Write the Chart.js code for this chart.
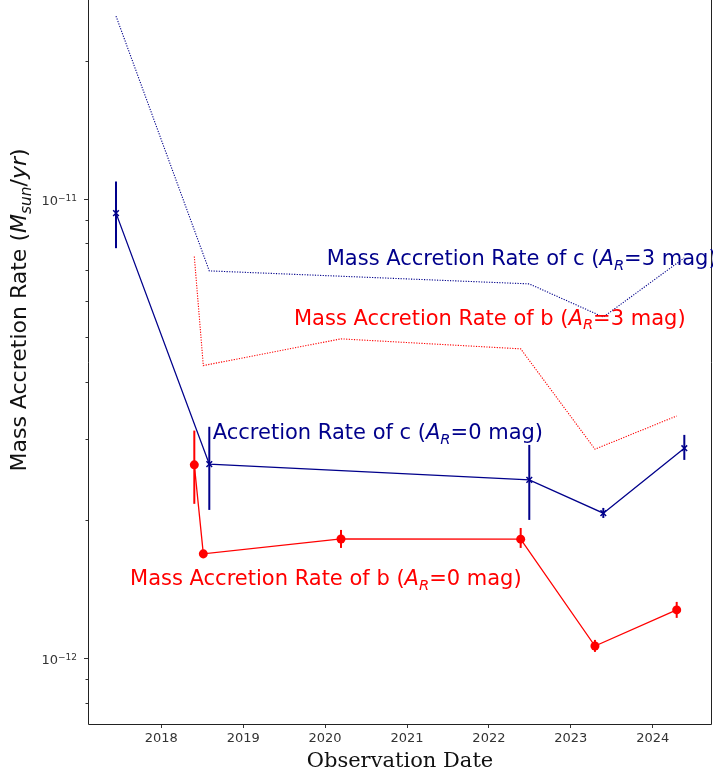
<!DOCTYPE html>
<html><head><meta charset="utf-8">
<script src="https://cdn.jsdelivr.net/npm/chart.js@4/dist/chart.umd.min.js"></script>
<style>html,body{margin:0;padding:0;background:#fff;}#wrap{position:relative;width:713px;height:775px;}</style>
</head><body><div id="wrap"><canvas id="c" width="713" height="775"></canvas></div>
<script>
// ---- data (decimal year, Msun/yr) ----
const datesC = [2017.447, 2018.586, 2022.493, 2023.397, 2024.386];
const rateC0 = [9.31e-12, 2.645e-12, 2.445e-12, 2.069e-12, 2.865e-12];
const errLoC0 = [7.81e-12, 2.103e-12, 2.0e-12, 2.02e-12, 2.702e-12];
const errHiC0 = [1.091e-11, 3.19e-12, 2.913e-12, 2.124e-12, 3.063e-12];
const rateC3 = [2.50e-11, 6.97e-12, 6.53e-12, 5.53e-12, 7.44e-12];

const datesB = [2018.403, 2018.513, 2020.194, 2022.388, 2023.295, 2024.293];
const rateB0 = [2.636e-12, 1.687e-12, 1.818e-12, 1.816e-12, 1.063e-12, 1.274e-12];
const errLoB0 = [2.168e-12, 1.65e-12, 1.738e-12, 1.738e-12, 1.032e-12, 1.224e-12];
const errHiB0 = [3.13e-12, 1.72e-12, 1.902e-12, 1.921e-12, 1.096e-12, 1.326e-12];
const rateB3 = [7.49e-12, 4.336e-12, 4.957e-12, 4.715e-12, 2.851e-12, 3.368e-12];

const yearTicks = [2018, 2019, 2020, 2021, 2022, 2023, 2024];
const yMajorTicks = [1e-12, 1e-11];
const yMajorExp = ['\u221212', '\u221211'];
const yMinorTicks = [8e-13, 9e-13, 2e-12, 3e-12, 4e-12, 5e-12, 6e-12, 7e-12, 8e-12, 9e-12, 2e-11];

const BLUE = '#00008B';
const RED = '#FF0000';

// annotations: anchor = left/baseline in data coords
const annotations = [
  {x: 2020.02, y: 7.18e-12, color: BLUE, parts: [{t: 'Mass Accretion Rate of c ('}, {t: 'A', it: 1}, {t: 'R', it: 1, sub: 1}, {t: '=3 mag)'}]},
  {x: 2019.62, y: 5.32e-12, color: RED, parts: [{t: 'Mass Accretion Rate of b ('}, {t: 'A', it: 1}, {t: 'R', it: 1, sub: 1}, {t: '=3 mag)'}]},
  {x: 2018.628, y: 3.00e-12, color: BLUE, parts: [{t: 'Accretion Rate of c ('}, {t: 'A', it: 1}, {t: 'R', it: 1, sub: 1}, {t: '=0 mag)'}]},
  {x: 2017.618, y: 1.444e-12, color: RED, parts: [{t: 'Mass Accretion Rate of b ('}, {t: 'A', it: 1}, {t: 'R', it: 1, sub: 1}, {t: '=0 mag)'}]}
];
const yTitleParts = [{t: 'Mass Accretion Rate ('}, {t: 'M', it: 1}, {t: 'sun', it: 1, sub: 1}, {t: '/', it: 0}, {t: 'yr', it: 1}, {t: ')'}];

const FONT = 'DejaVu Sans';
const TXT = 21;

function fontFor(p, size) {
  const s = p.sub ? size * 0.7 : size;
  return (p.it ? 'italic ' : '') + s + 'px "' + FONT + '"';
}
function richWidth(ctx, parts, size) {
  let w = 0;
  for (const p of parts) { ctx.font = fontFor(p, size); w += ctx.measureText(p.t).width; }
  return w;
}
function drawRich(ctx, parts, x, y, size, color) {
  ctx.fillStyle = color;
  ctx.textBaseline = 'alphabetic';
  ctx.textAlign = 'left';
  let cx = x;
  for (const p of parts) {
    ctx.font = fontFor(p, size);
    ctx.fillText(p.t, cx, y + (p.sub ? size * 0.22 : 0));
    cx += ctx.measureText(p.t).width;
  }
}

function series(xs, ys) { return xs.map((x, i) => ({x: x, y: ys[i]})); }
function zeroPad(s) { s.paddingLeft = 0; s.paddingRight = 0; s.paddingTop = 0; s.paddingBottom = 0; }

const decor = {
  id: 'decor',
  beforeDatasetsDraw(chart) {
    const ctx = chart.ctx, xs = chart.scales.x, ys = chart.scales.y;
    ctx.save();
    ctx.lineWidth = 2;
    ctx.lineCap = 'butt';
    const bars = [[datesC, errLoC0, errHiC0, BLUE], [datesB, errLoB0, errHiB0, RED]];
    for (const [d, lo, hi, col] of bars) {
      ctx.strokeStyle = col;
      for (let i = 0; i < d.length; i++) {
        const px = xs.getPixelForValue(d[i]);
        ctx.beginPath();
        ctx.moveTo(px, ys.getPixelForValue(lo[i]));
        ctx.lineTo(px, ys.getPixelForValue(hi[i]));
        ctx.stroke();
      }
    }
    ctx.restore();
  },
  afterDraw(chart) {
    const ctx = chart.ctx, xs = chart.scales.x, ys = chart.scales.y, a = chart.chartArea;
    ctx.save();
    // spines
    ctx.strokeStyle = '#222';
    ctx.lineWidth = 1;
    ctx.beginPath();
    ctx.moveTo(a.left + 0.5, a.top); ctx.lineTo(a.left + 0.5, a.bottom + 0.5);
    ctx.lineTo(a.right - 0.5, a.bottom + 0.5); ctx.lineTo(a.right - 0.5, a.top);
    ctx.stroke();
    // y ticks
    ctx.strokeStyle = '#333';
    for (const v of yMinorTicks) {
      const py = Math.round(ys.getPixelForValue(v)) + 0.5;
      ctx.beginPath(); ctx.moveTo(a.left - 2.5, py); ctx.lineTo(a.left, py); ctx.stroke();
    }
    yMajorTicks.forEach((v, i) => {
      const py = Math.round(ys.getPixelForValue(v)) + 0.5;
      ctx.beginPath(); ctx.moveTo(a.left - 4, py); ctx.lineTo(a.left, py); ctx.stroke();
      ctx.fillStyle = '#333';
      ctx.textBaseline = 'alphabetic';
      ctx.textAlign = 'left';
      ctx.font = '9px "' + FONT + '"';
      const sw = ctx.measureText(yMajorExp[i]).width;
      ctx.font = '13px "' + FONT + '"';
      const bw = ctx.measureText('10').width;
      const right = a.left - 11;
      ctx.fillText('10', right - sw - bw, py + 5.5);
      ctx.font = '9px "' + FONT + '"';
      ctx.fillText(yMajorExp[i], right - sw, py + 1);
    });
    // annotations
    for (const an of annotations) {
      drawRich(ctx, an.parts, xs.getPixelForValue(an.x), ys.getPixelForValue(an.y), TXT, an.color);
    }
    // axis titles
    ctx.fillStyle = '#111';
    ctx.font = '21px "DejaVu Serif"';
    ctx.textAlign = 'center';
    ctx.textBaseline = 'middle';
    ctx.fillText('Observation Date', 400, 762);
    ctx.save();
    ctx.translate(26, 310);
    ctx.rotate(-Math.PI / 2);
    const w = richWidth(ctx, yTitleParts, 22);
    drawRich(ctx, yTitleParts, -w / 2, 0, 22, '#111');
    ctx.restore();
    ctx.restore();
  }
};

new Chart(document.getElementById('c'), {
  type: 'scatter',
  data: {
    datasets: [
      {data: series(datesC, rateC3), showLine: true, borderColor: BLUE, borderWidth: 1.1, borderDash: [1.2, 1.4], pointRadius: 0, tension: 0},
      {data: series(datesB, rateB3), showLine: true, borderColor: RED, borderWidth: 1.1, borderDash: [1.2, 1.4], pointRadius: 0, tension: 0},
      {data: series(datesC, rateC0), showLine: true, borderColor: BLUE, borderWidth: 1.3, pointStyle: 'crossRot', pointRadius: 4, pointBorderWidth: 1.5, pointBorderColor: BLUE, pointBackgroundColor: BLUE, tension: 0},
      {data: series(datesB, rateB0), showLine: true, borderColor: RED, borderWidth: 1.3, pointStyle: 'circle', pointRadius: 4.5, pointBorderWidth: 0, pointBackgroundColor: RED, pointBorderColor: RED, tension: 0}
    ]
  },
  options: {
    responsive: false,
    animation: false,
    devicePixelRatio: 1,
    layout: {autoPadding: false, padding: {top: 0, right: 1, left: 0, bottom: 0}},
    plugins: {legend: {display: false}, tooltip: {enabled: false}},
    scales: {
      x: {
        type: 'linear', min: 2017.105, max: 2024.724,
        afterBuildTicks: s => { s.ticks = yearTicks.map(v => ({value: v})); },
        afterFit: s => { s.height = 51; zeroPad(s); },
        ticks: {font: {family: FONT, size: 13}, color: '#333', padding: 3, maxRotation: 0, autoSkip: false, callback: v => String(v)},
        grid: {display: true, drawOnChartArea: false, drawTicks: true, tickLength: 4, color: '#333', lineWidth: 1},
        border: {display: false}
      },
      y: {
        type: 'logarithmic', min: 7.19e-13, max: 2.71e-11,
        afterFit: s => { s.width = 88; zeroPad(s); },
        ticks: {display: false},
        grid: {display: false},
        border: {display: false}
      }
    }
  },
  plugins: [decor]
});
</script>
</body></html>
